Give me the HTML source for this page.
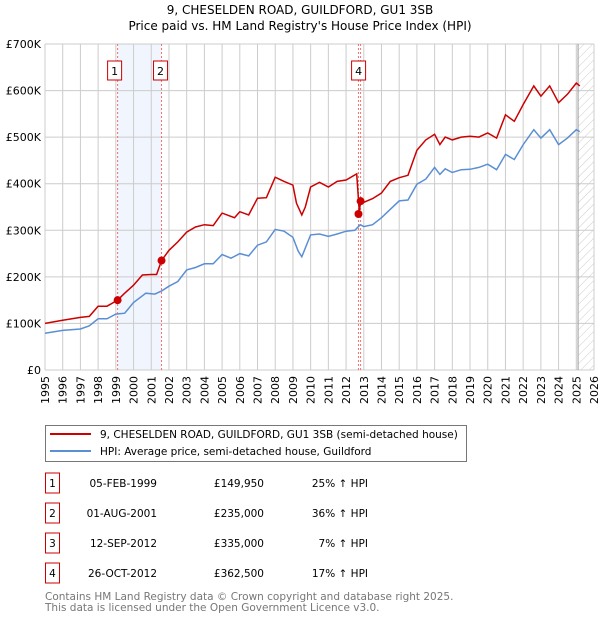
<!DOCTYPE html>
<html><head><meta charset="utf-8">
<style>
body{margin:0;background:#fff;font-family:"DejaVu Sans","Liberation Sans",sans-serif;}
svg text{font-family:"DejaVu Sans","Liberation Sans",sans-serif;}
</style></head>
<body>
<svg id="c" width="600" height="620" viewBox="0 0 600 620" xmlns="http://www.w3.org/2000/svg">
<text x="300" y="14" text-anchor="middle" font-size="12" fill="#000">9, CHESELDEN ROAD, GUILDFORD, GU1 3SB</text>
<text x="300" y="30" text-anchor="middle" font-size="12" fill="#000">Price paid vs. HM Land Registry's House Price Index (HPI)</text>
<g id="plot"></g>
<g>
<rect x="45.5" y="425.5" width="421" height="36" fill="#fff" stroke="#777"/>
<line x1="50" y1="434" x2="91" y2="434" stroke="#cc0000" stroke-width="2"/>
<text x="100" y="438" font-size="10.5">9, CHESELDEN ROAD, GUILDFORD, GU1 3SB (semi-detached house)</text>
<line x1="50" y1="451" x2="91" y2="451" stroke="#5b8fd4" stroke-width="2"/>
<text x="100" y="455" font-size="10.5">HPI: Average price, semi-detached house, Guildford</text>
</g>
<g id="table"></g>
<text x="45" y="600" font-size="10.5" fill="#777">Contains HM Land Registry data © Crown copyright and database right 2025.</text>
<text x="45" y="611" font-size="10.5" fill="#777">This data is licensed under the Open Government Licence v3.0.</text>
</svg>
<script>
const hpiYears=[1995,1996,1997,1997.5,1998,1998.5,1999,1999.5,2000,2000.7,2001.2,2001.6,2002,2002.5,2003,2003.5,2004,2004.5,2005,2005.5,2006,2006.5,2007,2007.5,2008,2008.5,2009,2009.3,2009.5,2010,2010.5,2011,2011.5,2012,2012.5,2012.8,2013,2013.5,2014,2014.5,2015,2015.5,2016,2016.5,2017,2017.3,2017.6,2018,2018.5,2019,2019.5,2020,2020.5,2021,2021.5,2022,2022.6,2023,2023.5,2024,2024.5,2025,2025.2];
const hpiValues=[79,85,88,95,110,110,120,122,145,165,163,170,180,190,215,220,228,228,248,240,250,245,268,275,302,298,285,255,243,290,292,287,292,298,300,312,308,312,327,345,363,365,399,410,435,420,432,424,430,431,435,442,430,463,452,484,516,498,516,484,498,516,512];
const redYears=[1995,1996,1997,1997.5,1998,1998.5,1999.1,1999.5,2000,2000.5,2001,2001.3,2001.58,2002,2002.5,2003,2003.5,2004,2004.5,2005,2005.7,2006,2006.5,2007,2007.5,2008,2008.5,2009,2009.2,2009.5,2009.7,2010,2010.5,2011,2011.5,2012,2012.6,2012.75,2012.82,2013,2013.5,2014,2014.5,2015,2015.5,2016,2016.5,2017,2017.3,2017.6,2018,2018.5,2019,2019.5,2020,2020.5,2021,2021.5,2022,2022.6,2023,2023.5,2024,2024.5,2025,2025.2];
const redValues=[100,107,113,115,137,137,150,165,182,204,205,205,235,257,275,296,307,312,310,337,327,340,333,369,370,414,405,397,358,333,350,393,403,393,405,408,421,340,362,360,368,380,405,413,418,472,494,506,484,500,494,500,502,500,509,498,548,534,570,610,588,610,574,592,616,610];
const sales=[{n:'1',t:1999.1,v:149.95,d:'05-FEB-1999',p:'£149,950',h:'25% ↑ HPI'},{n:'2',t:2001.58,v:235,d:'01-AUG-2001',p:'£235,000',h:'36% ↑ HPI'},{n:'3',t:2012.7,v:335,d:'12-SEP-2012',p:'£335,000',h:'7% ↑ HPI'},{n:'4',t:2012.82,v:362.5,d:'26-OCT-2012',p:'£362,500',h:'17% ↑ HPI'}];
const yTicks=[0,100,200,300,400,500,600,700];
const yTickLabels=['£0','£100K','£200K','£300K','£400K','£500K','£600K','£700K'];
const xTicks=[1995,1996,1997,1998,1999,2000,2001,2002,2003,2004,2005,2006,2007,2008,2009,2010,2011,2012,2013,2014,2015,2016,2017,2018,2019,2020,2021,2022,2023,2024,2025,2026];
const X0=45,X1=594,Y0=370,Y1=44;
const xs=t=>X0+(t-1995)/(2026-1995)*(X1-X0);
const ys=v=>Y0-v/700*(Y0-Y1);
const NS='http://www.w3.org/2000/svg';
const plot=document.getElementById('plot');
function mk(tag,attrs,parent){const e=document.createElementNS(NS,tag);for(const k in attrs)e.setAttribute(k,attrs[k]);(parent||plot).appendChild(e);return e;}
const defs=mk('defs',{});
const pat=mk('pattern',{id:'hatch',width:6,height:6,patternUnits:'userSpaceOnUse',patternTransform:'rotate(45)'},defs);
mk('line',{x1:0,y1:0,x2:0,y2:6,stroke:'#ccc','stroke-width':1},pat);
let band=mk('rect',{x:xs(sales[0].t),y:Y1,width:xs(sales[1].t)-xs(sales[0].t),height:Y0-Y1,fill:'#eef3fc',opacity:0.8});


let hat=mk('rect',{x:xs(2025.1),y:Y1,width:X1-xs(2025.1),height:Y0-Y1,fill:'url(#hatch)'});


xTicks.forEach((t,i)=>{
  const l=mk('line',{x1:xs(t),y1:Y1,x2:xs(t),y2:Y0,stroke:'#ccc','stroke-width':1});
  
  
  const tx=mk('text',{x:0,y:0,'font-size':11,'text-anchor':'end',transform:`translate(${xs(t)+4},${Y0+6}) rotate(-90)`});
  tx.textContent=String(t);
  
  
});
yTicks.forEach((v,i)=>{
  const l=mk('line',{x1:X0,y1:ys(v),x2:X1,y2:ys(v),stroke:'#ccc','stroke-width':1});
  
  
  const tx=mk('text',{x:X0-4,y:ys(v)+4,'font-size':11,'text-anchor':'end'});
  tx.textContent=yTickLabels[i];
  
  
});
let nowl=mk('line',{x1:xs(2025.1),y1:Y1,x2:xs(2025.1),y2:Y0,stroke:'#999','stroke-width':1});


sales.forEach(s=>{
  const l=mk('line',{x1:xs(s.t),y1:Y1,x2:xs(s.t),y2:Y0,stroke:'#f07070','stroke-width':1,'stroke-dasharray':'2,2'});
  
  
});
const path=(xa,va)=>xa.map((t,i)=>(i?'L':'M')+xs(t).toFixed(1)+','+ys(va[i]).toFixed(1)).join('');
let hp=mk('path',{d:path(hpiYears,hpiValues),fill:'none',stroke:'#5b8fd4','stroke-width':1.5});


let rp=mk('path',{d:path(redYears,redValues),fill:'none',stroke:'#cc0000','stroke-width':1.5});


sales.forEach(s=>{
  const c=mk('circle',{cx:xs(s.t),cy:ys(s.v),r:4,fill:'#cc0000'});
  
  
});
[0,1,3].forEach(i=>{
  const s=sales[i];
  const g=mk('g',{});
  
  
  const bx=xs(s.t)-(i==0?10:(i==1?8:9));
  mk('rect',{x:bx,y:61,width:14,height:19,fill:'#fff',stroke:'#cc0000','stroke-width':1},g);
  const tx=mk('text',{x:bx+7,y:75,'font-size':11,'text-anchor':'middle'},g);
  tx.textContent=s.n;
});
const tb=document.getElementById('table');
sales.forEach((s,i)=>{
  const y=483+i*30;
  const g=mk('g',{},tb);
  
  
  mk('rect',{x:45.5,y:y-10,width:14,height:20,fill:'#fff',stroke:'#cc0000'},g);
  const a=mk('text',{x:52.5,y:y+4,'font-size':10.5,'text-anchor':'middle'},g);a.textContent=s.n;
  const b=mk('text',{x:157,y:y+4,'font-size':10.5,'text-anchor':'end'},g);b.textContent=s.d;
  const c=mk('text',{x:264,y:y+4,'font-size':10.5,'text-anchor':'end'},g);c.textContent=s.p;
  const d=mk('text',{x:368,y:y+4,'font-size':10.5,'text-anchor':'end'},g);d.textContent=s.h;
});
</script>
</body></html>
